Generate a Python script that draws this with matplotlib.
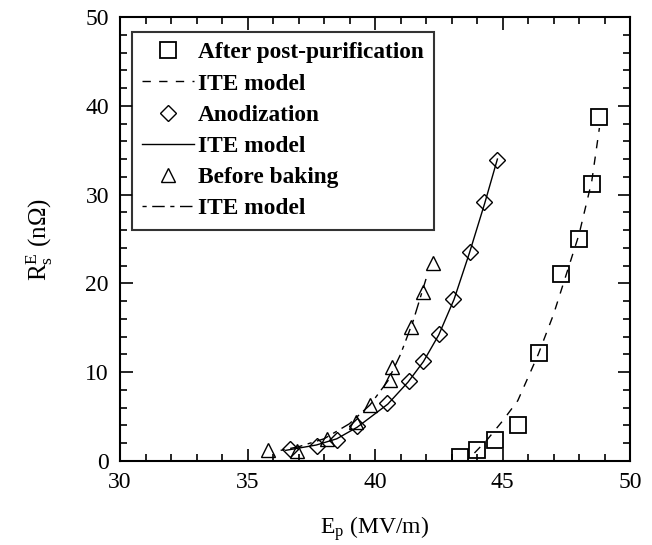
import matplotlib
matplotlib.use("Agg")
import matplotlib.pyplot as plt
from matplotlib.lines import Line2D
from matplotlib.ticker import MultipleLocator

plt.rcParams['font.family'] = ['Liberation Serif', 'DejaVu Serif']
plt.rcParams['mathtext.fontset'] = 'custom'
plt.rcParams['mathtext.rm'] = 'Liberation Serif'
plt.rcParams['mathtext.it'] = 'Liberation Serif:italic'

# After post-purification (squares)
post_E = [43.33, 43.99, 44.72, 45.61, 46.44, 47.28, 48.0, 48.5, 48.8]
post_R = [0.4, 1.2, 2.4, 4.1, 12.2, 21.1, 25.0, 31.2, 38.7]
post_model_E = [43.9, 44.4, 45.0, 45.6, 46.4, 47.0, 47.5, 48.0, 48.5, 48.8]
post_model_R = [0.9, 2.4, 4.5, 6.8, 12.0, 16.5, 21.0, 25.5, 31.5, 37.5]

# Anodization (diamonds)
anod_E = [36.67, 37.71, 38.5, 39.28, 40.46, 41.33, 41.87, 42.5, 43.06, 43.72, 44.27, 44.77]
anod_R = [1.4, 1.7, 2.4, 3.9, 6.5, 9.0, 11.3, 14.3, 18.2, 23.5, 29.2, 33.9]
anod_model_E = [36.5, 37.7, 38.5, 39.3, 40.5, 41.3, 41.9, 42.5, 43.1, 43.7, 44.3, 44.8]
anod_model_R = [1.2, 1.8, 2.5, 3.8, 6.4, 8.9, 11.2, 14.2, 18.2, 23.4, 29.0, 34.0]

# Before baking (triangles)
bake_E = [35.82, 36.95, 38.1, 39.26, 39.8, 40.59, 40.65, 41.4, 41.87, 42.26]
bake_R = [1.2, 1.1, 2.5, 4.4, 6.3, 9.1, 10.6, 15.1, 19.0, 22.3]
bake_model_E = [36.3, 37.0, 38.0, 39.0, 39.8, 40.5, 41.0, 41.5, 42.0]
bake_model_R = [1.2, 1.6, 2.5, 4.2, 6.3, 9.0, 12.0, 15.8, 20.5]

x_ticks = [30, 35, 40, 45, 50]
y_ticks = [0, 10, 20, 30, 40, 50]

fig = plt.figure(figsize=(6.52, 5.45), dpi=100)
ax = fig.add_axes([120/652, (545-461)/545, 510/652, 444/545])

ax.plot(post_model_E, post_model_R, color='black', lw=1.0, linestyle=(0, (6, 6)))
ax.plot(anod_model_E, anod_model_R, color='black', lw=1.0, linestyle='-')
ax.plot(bake_model_E, bake_model_R, color='black', lw=1.0, linestyle=(0, (3, 4, 9, 4)))

ax.plot(post_E, post_R, linestyle='none', marker='s', ms=11.5, mfc='none', mec='black', mew=1.3)
ax.plot(anod_E, anod_R, linestyle='none', marker='D', ms=8.5, mfc='none', mec='black', mew=1.0)
ax.plot(bake_E, bake_R, linestyle='none', marker='^', ms=10.5, mfc='none', mec='black', mew=1.0)

ax.set_xlim(30, 50)
ax.set_ylim(0, 50)
ax.set_xticks(x_ticks)
ax.set_yticks(y_ticks)
ax.xaxis.set_minor_locator(MultipleLocator(1))
ax.yaxis.set_minor_locator(MultipleLocator(2))
ax.tick_params(which='both', direction='in', top=True, right=True, labelsize=17, width=1.2)
ax.tick_params(which='major', length=9, pad=8)
ax.tick_params(which='minor', length=5)
for s in ax.spines.values():
    s.set_linewidth(1.5)

ax.set_xlabel(r'E$_\mathregular{p}$ (MV/m)', fontsize=17, labelpad=15)
ax.set_ylabel(r'R$_\mathregular{s}^\mathregular{E}$ (n$\Omega$)', fontsize=18, labelpad=22)

handles = [
    Line2D([], [], linestyle='none', marker='s', ms=11.5, mfc='none', mec='black', mew=1.3),
    Line2D([], [], color='black', lw=1.0, linestyle=(0, (6, 6))),
    Line2D([], [], linestyle='none', marker='D', ms=8.5, mfc='none', mec='black', mew=1.0),
    Line2D([], [], color='black', lw=1.0, linestyle='-'),
    Line2D([], [], linestyle='none', marker='^', ms=10.5, mfc='none', mec='black', mew=1.0),
    Line2D([], [], color='black', lw=1.0, linestyle=(0, (3, 4, 9, 4))),
]
labels = ['After post-purification', 'ITE model', 'Anodization', 'ITE model',
          'Before baking', 'ITE model']
leg = ax.legend(handles, labels, loc='upper left', bbox_to_anchor=(0.023, 0.967),
                borderaxespad=0, fontsize=16.8, frameon=True, fancybox=False,
                edgecolor='black', handlelength=2.2, handletextpad=0.2,
                labelspacing=0.42, borderpad=0.45)
leg.get_frame().set_linewidth(1.5)
for t in leg.get_texts():
    t.set_fontweight('bold')

fig.savefig('out.png', dpi=100, facecolor='white')
